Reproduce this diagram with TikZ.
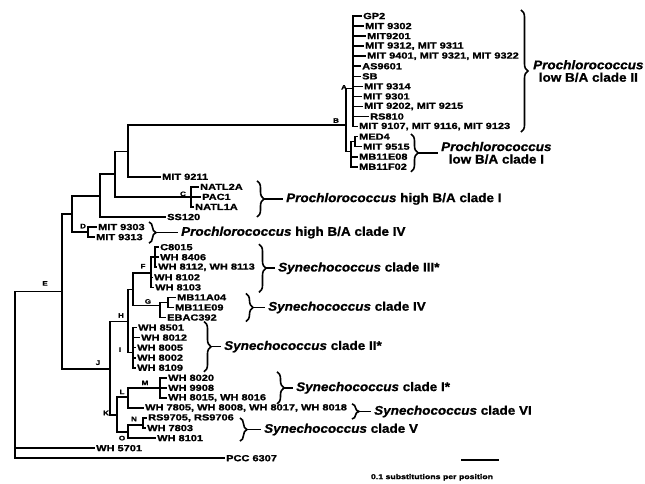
\documentclass[tikz,border=0pt]{standalone}
\usepackage{fontspec}
\newfontfamily\leaffont[FakeStretch=1.25, BoldFeatures={FakeBold=1.3}]{Liberation Sans}
\newfontfamily\cladefont[FakeStretch=1.08, BoldFeatures={FakeBold=1}, BoldItalicFeatures={FakeBold=1}]{Liberation Sans}
\usetikzlibrary{positioning,decorations.pathreplacing}

\begin{document}
\begin{tikzpicture}[
    x=1pt, y=-10.05pt,
    br/.style={line width=1.6pt, line cap=rect},
    leaf/.style={anchor=west, inner sep=2pt, font=\leaffont\bfseries\fontsize{8.8}{9}\selectfont},
    nlbl/.style={inner sep=0pt, font=\leaffont\bfseries\fontsize{6.5}{7}\selectfont},
    brc/.style={line width=1.6pt, decorate, decoration={brace, amplitude=7pt}},
    clade/.style={anchor=west, align=center, inner sep=4pt, font=\cladefont\bfseries\fontsize{12.5}{12.5}\selectfont},
    sclbl/.style={inner sep=0pt, font=\leaffont\bfseries\fontsize{7}{8}\selectfont}
]
\useasboundingbox (0,-1.592) rectangle (645,46.468);

% --- Leaves, one row each (y unit = one row) ---

% Prochlorococcus low B/A clade II
\node[leaf] (gp2)    at (361, 0)  {GP2};
\node[leaf] (m9302)  at (363, 1)  {MIT 9302};
\node[leaf] (m9201)  at (365, 2)  {MIT9201};
\node[leaf] (m9312)  at (363, 3)  {MIT 9312, MIT 9311};
\node[leaf] (m9401)  at (365, 4)  {MIT 9401, MIT 9321, MIT 9322};
\node[leaf] (as9601) at (360, 5)  {AS9601};
\node[leaf] (sb)     at (360, 6)  {SB};
\node[leaf] (m9314)  at (362, 7)  {MIT 9314};
\node[leaf] (m9301)  at (361, 8)  {MIT 9301};
\node[leaf] (m9202)  at (362, 9)  {MIT 9202, MIT 9215};
\node[leaf] (rs810)  at (368, 10) {RS810};
\node[leaf] (m9107)  at (357, 11) {MIT 9107, MIT 9116, MIT 9123};

% Prochlorococcus low B/A clade I
\node[leaf] (med4)    at (357, 12) {MED4};
\node[leaf] (m9515)   at (361, 13) {MIT 9515};
\node[leaf] (mb11e08) at (357, 14) {MB11E08};
\node[leaf] (mb11f02) at (357, 15) {MB11F02};

% Prochlorococcus high B/A
\node[leaf] (m9211)  at (160, 16) {MIT 9211};
\node[leaf] (natl2a) at (198, 17) {NATL2A};
\node[leaf] (pac1)   at (200, 18) {PAC1};
\node[leaf] (natl1a) at (193, 19) {NATL1A};
\node[leaf] (ss120)  at (165, 20) {SS120};
\node[leaf] (m9303)  at (96, 21)  {MIT 9303};
\node[leaf] (m9313)  at (94, 22)  {MIT 9313};

% Synechococcus
\node[leaf] (c8015)  at (158, 23) {C8015};
\node[leaf] (w8406)  at (158, 24) {WH 8406};
\node[leaf] (w8112)  at (156, 25) {WH 8112, WH 8113};
\node[leaf] (w8102)  at (152, 26) {WH 8102};
\node[leaf] (w8103)  at (153, 27) {WH 8103};
\node[leaf] (mb11a04) at (175, 28) {MB11A04};
\node[leaf] (mb11e09) at (173, 29) {MB11E09};
\node[leaf] (ebac392) at (165, 30) {EBAC392};
\node[leaf] (w8501)  at (136, 31) {WH 8501};
\node[leaf] (w8012)  at (139, 32) {WH 8012};
\node[leaf] (w8005)  at (135, 33) {WH 8005};
\node[leaf] (w8002)  at (135, 34) {WH 8002};
\node[leaf] (w8109)  at (135, 35) {WH 8109};
\node[leaf] (w8020)  at (166, 36) {WH 8020};
\node[leaf] (w9908)  at (166, 37) {WH 9908};
\node[leaf] (w8015)  at (166, 38) {WH 8015, WH 8016};
\node[leaf] (w7805)  at (143, 39) {WH 7805, WH 8008, WH 8017, WH 8018};
\node[leaf] (rs9705) at (146, 40) {RS9705, RS9706};
\node[leaf] (w7803)  at (145, 41) {WH 7803};
\node[leaf] (w8101)  at (155, 42) {WH 8101};
\node[leaf] (w5701)  at (94, 43)  {WH 5701};
\node[leaf] (pcc6307) at (224, 44) {PCC 6307};

% --- Internal nodes ---
\coordinate (rt)  at (15, 35.7);
\coordinate (nE)  at (62, 27.4);
\coordinate (nP4) at (72, 19.7);
\coordinate (nP3) at (100, 17.9);
\coordinate (nP2) at (115, 15.75);
\coordinate (nP1) at (128, 13.5);
\coordinate (nB)  at (346, 10.85);
\coordinate (nA)  at (353, 7.2);
\coordinate (nLo) at (351, 13.5);
\coordinate (nMd) at (355, 12.5);
\coordinate (nC)  at (191, 18);
\coordinate (nD)  at (88, 21.5);
\coordinate (nJ)  at (110, 35.1);
\coordinate (nH)  at (128, 30.4);
\coordinate (nFG) at (133, 27.2);
\coordinate (nF)  at (151, 25.6);
\coordinate (nF2) at (155, 24);
\coordinate (nG)  at (160, 28.8);
\coordinate (nG2) at (168, 28.5);
\coordinate (nI)  at (133, 33.5);
\coordinate (nK)  at (117, 39.7);
\coordinate (nL)  at (128, 37.9);
\coordinate (nM)  at (160, 37);
\coordinate (nO)  at (128, 41.4);
\coordinate (nN)  at (143, 40.7);

% --- Branches ---
\draw[br] (rt) |- (nE) (rt) |- (w5701.west) (rt) |- (pcc6307.west);
\draw[br] (nE) |- (nP4) (nE) |- (nJ);
\draw[br] (nP4) |- (nP3) (nP4) |- (nD);
\draw[br] (nP3) |- (nP2) (nP3) |- (ss120.west);
\draw[br] (nP2) |- (nP1) (nP2) |- (nC);
\draw[br] (nP1) |- (nB) (nP1) |- (m9211.west);
\draw[br] (nB) |- (nA) (nB) |- (nLo);
\draw[br] (nA) |- (gp2.west) (nA) |- (m9302.west) (nA) |- (m9201.west)
          (nA) |- (m9312.west) (nA) |- (m9401.west) (nA) |- (as9601.west)
          (nA) |- (sb.west) (nA) |- (m9314.west) (nA) |- (m9301.west)
          (nA) |- (m9202.west) (nA) |- (rs810.west) (nA) |- (m9107.west);
\draw[br] (nLo) |- (nMd) (nLo) |- (mb11e08.west) (nLo) |- (mb11f02.west);
\draw[br] (nMd) |- (med4.west) (nMd) |- (m9515.west);
\draw[br] (nC) |- (natl2a.west) (nC) |- (pac1.west) (nC) |- (natl1a.west);
\draw[br] (nD) |- (m9303.west) (nD) |- (m9313.west);

\draw[br] (nJ) |- (nH) (nJ) |- (nK);
\draw[br] (nH) |- (nFG) (nH) |- (nI);
\draw[br] (nFG) |- (nF) (nFG) |- (nG);
\draw[br] (nF) |- (nF2) (nF) |- (w8102.west) (nF) |- (w8103.west);
\draw[br] (nF2) |- (c8015.west) (nF2) |- (w8406.west) (nF2) |- (w8112.west);
\draw[br] (nG) |- (nG2) (nG) |- (ebac392.west);
\draw[br] (nG2) |- (mb11a04.west) (nG2) |- (mb11e09.west);
\draw[br] (nI) |- (w8501.west) (nI) |- (w8012.west) (nI) |- (w8005.west)
          (nI) |- (w8002.west) (nI) |- (w8109.west);
\draw[br] (nK) |- (nL) (nK) |- (nO);
\draw[br] (nL) |- (nM) (nL) |- (w7805.west);
\draw[br] (nM) |- (w8020.west) (nM) |- (w9908.west) (nM) |- (w8015.west);
\draw[br] (nO) |- (nN) (nO) |- (w8101.west);
\draw[br] (nN) |- (rs9705.west) (nN) |- (w7803.west);

% --- Node letters ---
\node[nlbl] (lA) at (344, 7.1)  {A};
\node[nlbl] (lB) at (336, 10.4) {B};
\node[nlbl] (lC) at (183, 17.7) {C};
\node[nlbl] (lD) at (83, 20.9)  {D};
\node[nlbl] (lE) at (45, 26.6)  {E};
\node[nlbl] (lF) at (143, 24.9) {F};
\node[nlbl] (lG) at (148, 28.4) {G};
\node[nlbl] (lH) at (121, 29.8) {H};
\node[nlbl] (lI) at (120, 33.2) {I};
\node[nlbl] (lJ) at (98, 34.5)  {J};
\node[nlbl] (lK) at (106, 39.5) {K};
\node[nlbl] (lL) at (122, 37.4) {L};
\node[nlbl] (lM) at (145, 36.5) {M};
\node[nlbl] (lN) at (134, 40.1) {N};
\node[nlbl] (lO) at (122, 42.0) {O};

% --- Clade braces and names ---
\draw[brc] (521, -0.6) -- (521, 11.55);
\coordinate (t2) at (528, 5.48);
\node[clade, right=1pt of t2] (cl2) {\itshape Prochlorococcus\\low B/A clade II};

\draw[brc] (411, 11.74) -- (411, 15.5);
\coordinate (t1) at (418, 13.62);
\node[clade, right=19pt of t1] (cl1) {\itshape Prochlorococcus\\low B/A clade I};
\draw[br] (t1) -- (cl1.west);

\draw[brc] (257, 16.4) -- (257, 20.0);
\coordinate (th1) at (264, 18.2);
\node[clade, right=18pt of th1] (clh1) {\textit{Prochlorococcus} high B/A clade I};
\draw[br] (th1) -- (clh1.west);

\draw[brc] (149, 20.5) -- (149, 22.6);
\coordinate (th4) at (156, 21.55);
\node[clade, right=21pt of th4] (clh4) {\textit{Prochlorococcus} high B/A clade IV};
\draw[br] (th4) -- (clh4.west);

\draw[brc] (259, 22.7) -- (259, 27.5);
\coordinate (ts3) at (266, 25.1);
\node[clade, right=8pt of ts3] (cls3) {\textit{Synechococcus} clade III*};
\draw[br] (ts3) -- (cls3.west);

\draw[brc] (246, 27.6) -- (246, 30.4);
\coordinate (ts4) at (253, 29.0);
\node[clade, right=11pt of ts4] (cls4) {\textit{Synechococcus} clade IV};
\draw[br] (ts4) -- (cls4.west);

\draw[brc] (204, 30.4) -- (204, 35.4);
\coordinate (ts2) at (211, 32.9);
\node[clade, right=9pt of ts2] (cls2) {\textit{Synechococcus} clade II*};
\draw[br] (ts2) -- (cls2.west);

\draw[brc] (277, 35.4) -- (277, 38.6);
\coordinate (ts1) at (284, 37.0);
\node[clade, right=8pt of ts1] (cls1) {\textit{Synechococcus} clade I*};
\draw[br] (ts1) -- (cls1.west);

\draw[brc] (352, 38.6) -- (352, 40.1);
\coordinate (ts6) at (359, 39.35);
\node[clade, right=11pt of ts6] (cls6) {\textit{Synechococcus} clade VI};
\draw[br] (ts6) -- (cls6.west);

\draw[brc] (240, 40.0) -- (240, 42.3);
\coordinate (ts5) at (247, 41.15);
\node[clade, right=13pt of ts5] (cls5) {\textit{Synechococcus} clade V};
\draw[br] (ts5) -- (cls5.west);

% --- Scale bar ---
\coordinate (sbl) at (462, 44.2);
\coordinate (sbr) at (498, 44.2);
\draw[br] (sbl) -- (sbr);
\node[sclbl] (sct) at (432, 45.9) {0.1 substitutions per position};

\end{tikzpicture}
\end{document}
